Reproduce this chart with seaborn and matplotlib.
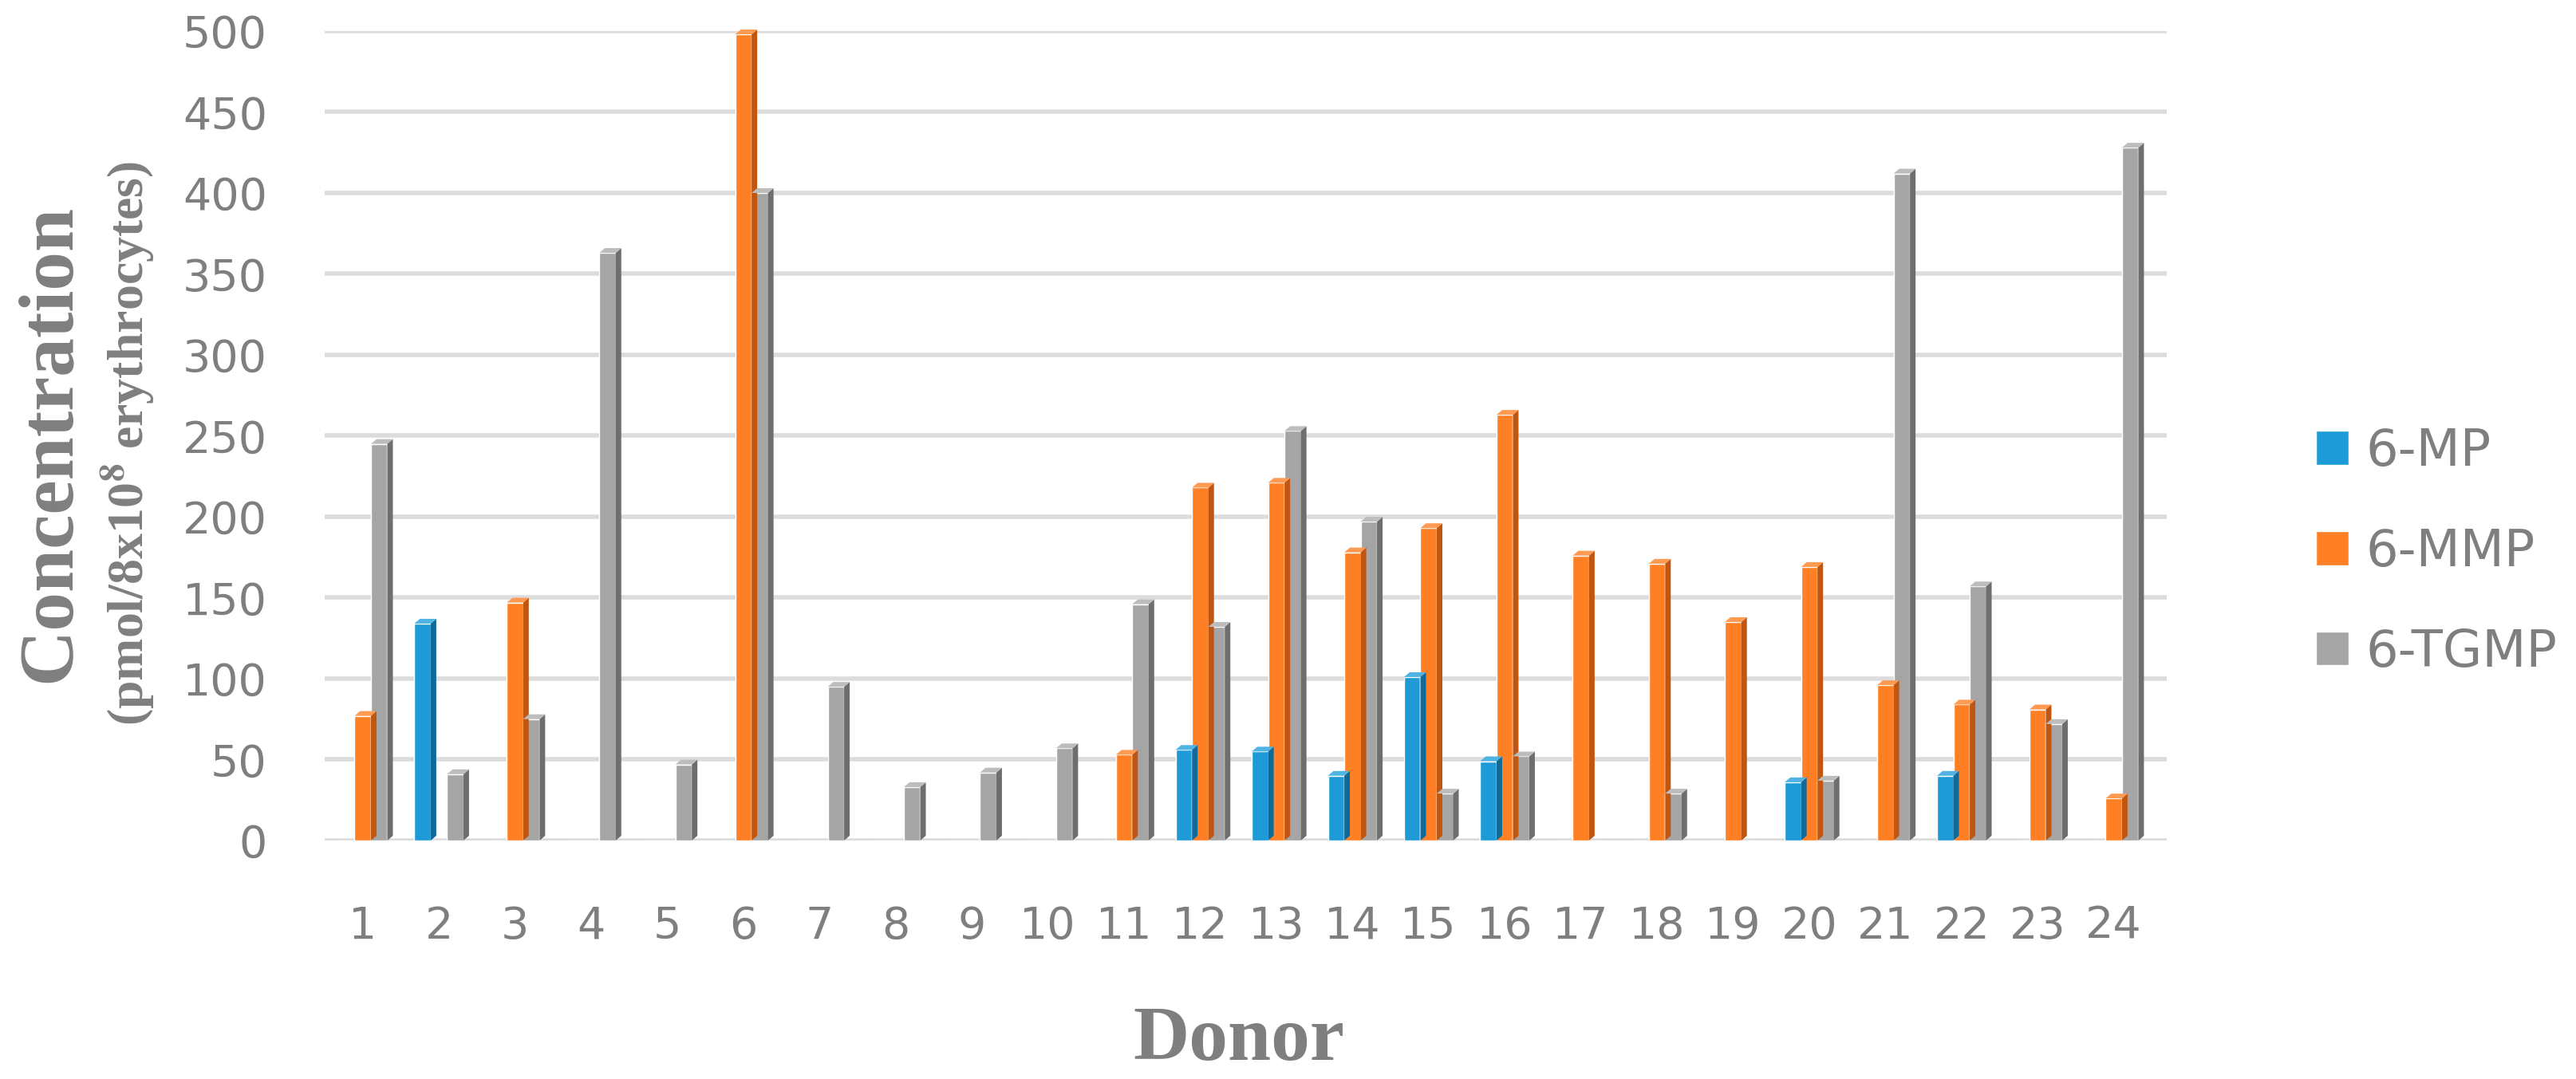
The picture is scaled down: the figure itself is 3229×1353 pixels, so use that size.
import pandas as pd
import numpy as np
import matplotlib
matplotlib.use("Agg")
import matplotlib.pyplot as plt
from matplotlib.patches import Polygon
import seaborn as sns

# values (0 = not detected)
donors = [str(i) for i in range(1, 25)]
mp_vals = [0, 134, 0, 0, 0, 0, 0, 0, 0, 0, 0, 56, 55, 40, 101, 49, 0, 0, 0, 36, 0, 40, 0, 0]
mmp_vals = [77, 0, 147, 0, 0, 498, 0, 0, 0, 0, 53, 218, 221, 178, 193, 263, 176, 171, 135, 169, 96, 84, 81, 26]
tgmp_vals = [245, 41, 75, 363, 47, 400, 95, 33, 42, 57, 146, 132, 253, 197, 29, 52, 0, 29, 0, 37, 412, 157, 72, 428]
series = ["6-MP", "6-MMP", "6-TGMP"]
colors = ["#1e9bd7", "#ff7f24", "#a5a5a5"]
side_colors = ["#0f6a9a", "#c0560f", "#6e6e6e"]
top_colors = ["#4fb3e3", "#ff9a52", "#bdbdbd"]
text_gray = "#7f7f7f"

df = pd.DataFrame({
    "donor": donors * 3,
    "compound": [series[0]] * 24 + [series[1]] * 24 + [series[2]] * 24,
    "conc": mp_vals + mmp_vals + tgmp_vals,
})

sns.set_style("white")
plt.rcParams["mathtext.fontset"] = "stix"

fig = plt.figure(figsize=(32.3, 13.53), dpi=100)
ax = fig.add_axes([0.126, 0.221, 0.715, 0.7502])

sns.barplot(data=df, x="donor", y="conc", hue="compound", order=donors,
            hue_order=series, palette=colors, width=0.645, ax=ax,
            saturation=1, errorbar=None, zorder=3)

ax.set_xlim(-0.5, 23.7)
ax.set_ylim(0, 500)
ax.set_yticks(range(0, 501, 50))
ax.yaxis.grid(True, color="#dcdcdc", linewidth=4, zorder=0)
ax.set_axisbelow(True)
for s in ax.spines.values():
    s.set_visible(False)
ax.tick_params(axis="both", length=0, labelsize=40, labelcolor=text_gray)
ax.tick_params(axis="y", pad=52)
ax.tick_params(axis="x", pad=58)
ax.set_xlabel("")
ax.set_ylabel("")

# fake 3D faces on each bar (side + top), built from the drawn patches
dx, dy = 7, 6
inv = ax.transData.inverted()
for bar in list(ax.patches):
    h = bar.get_height()
    if h <= 0:
        continue
    ci = colors.index(matplotlib.colors.to_hex(bar.get_facecolor()))
    x0 = bar.get_x()
    x1 = x0 + bar.get_width()
    (X0, Y0), (X1, Yh) = ax.transData.transform([(x0, 0), (x1, h)])
    side = inv.transform([(X1, Y0), (X1 + dx, Y0 + dy), (X1 + dx, Yh + dy), (X1, Yh)])
    top = inv.transform([(X0, Yh), (X0 + dx, Yh + dy), (X1 + dx, Yh + dy), (X1, Yh)])
    ax.add_patch(Polygon(side, closed=True, facecolor=side_colors[ci], edgecolor="none", zorder=3, clip_on=False))
    ax.add_patch(Polygon(top, closed=True, facecolor=top_colors[ci], edgecolor="none", zorder=3, clip_on=False))

handles, labels = ax.get_legend_handles_labels()
ax.legend(handles, labels, loc="center left", bbox_to_anchor=(0.8988, 0.4886),
          bbox_transform=fig.transFigure, frameon=False, fontsize=46,
          labelcolor=text_gray, handlelength=0.64, handleheight=0.64,
          handletextpad=0.33, labelspacing=1.0, borderpad=0, borderaxespad=0)

serif = ["Liberation Serif", "DejaVu Serif"]
fig.text(0.4808, 0.0177, "Donor", ha="center", va="baseline", fontsize=70,
         fontweight="bold", family=serif, color=text_gray)
fig.text(0.0195, 0.589, "Concentration", rotation=90, ha="center", va="center",
         fontsize=70, fontweight="bold", family=serif, color=text_gray)
fig.text(0.0498, 0.589, r"(pmol/8x10$^{\mathbf{8}}$ erythrocytes)", rotation=90,
         ha="center", va="center", fontsize=46, fontweight="bold", family=serif,
         color=text_gray)

fig.savefig("out.png", dpi=100)
